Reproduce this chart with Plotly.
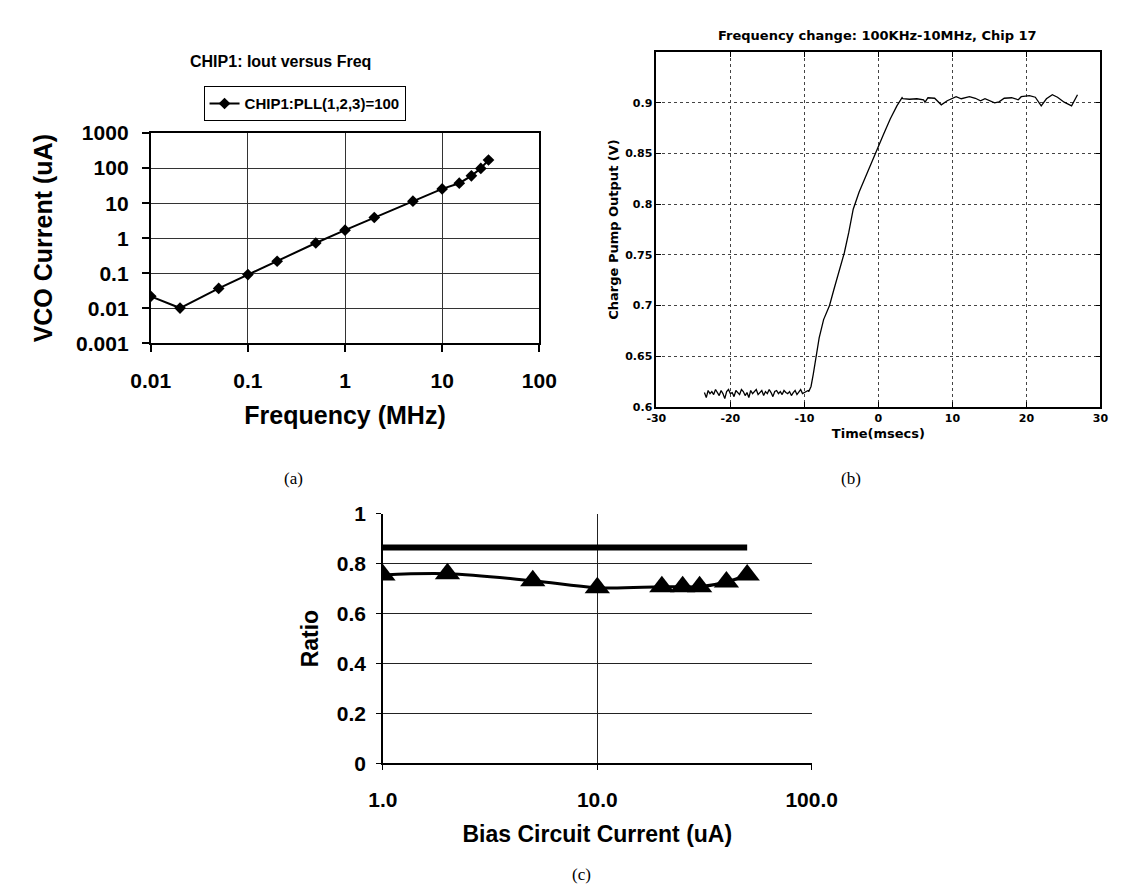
import plotly.graph_objects as go

# ---------------- data ----------------
# (a) CHIP1: Iout versus Freq
freq_mhz = [0.01, 0.02, 0.05, 0.1, 0.2, 0.5, 1, 2, 5, 10, 15, 20, 25, 30]
vco_current_ua = [0.022, 0.0102, 0.037, 0.092, 0.22, 0.73, 1.7, 3.9, 11.4, 25.5, 37, 60, 98, 170]
freq_ticks = [0.01, 0.1, 1, 10, 100]
freq_tick_labels = ["0.01", "0.1", "1", "10", "100"]
cur_ticks = [0.001, 0.01, 0.1, 1, 10, 100, 1000]
cur_tick_labels = ["0.001", "0.01", "0.1", "1", "10", "100", "1000"]

# (b) Frequency change transient
t_flat = [-23.5, -23.25, -23.0, -22.75, -22.5, -22.25, -22.0, -21.75, -21.5, -21.25,
          -21.0, -20.75, -20.5, -20.25, -20.0, -19.75, -19.5, -19.25, -19.0, -18.75,
          -18.5, -18.25, -18.0, -17.75, -17.5, -17.25, -17.0, -16.75, -16.5, -16.25,
          -16.0, -15.75, -15.5, -15.25, -15.0, -14.75, -14.5, -14.25, -14.0, -13.75,
          -13.5, -13.25, -13.0, -12.75, -12.5, -12.25, -12.0, -11.75, -11.5, -11.25,
          -11.0, -10.75, -10.5, -10.25, -10.0, -9.75, -9.5]
v_flat = [0.614, 0.609, 0.616, 0.613, 0.615, 0.612, 0.617, 0.614, 0.611, 0.616,
          0.613, 0.608, 0.615, 0.617, 0.613, 0.614, 0.610, 0.616, 0.614, 0.612,
          0.617, 0.615, 0.611, 0.614, 0.609, 0.616, 0.613, 0.615, 0.617, 0.612,
          0.614, 0.616, 0.611, 0.615, 0.613, 0.617, 0.614, 0.610, 0.615, 0.616,
          0.613, 0.615, 0.612, 0.616, 0.614, 0.613, 0.615, 0.611, 0.614, 0.616,
          0.612, 0.615, 0.617, 0.613, 0.614, 0.615, 0.616]
t_rise = [-9.4, -9.1, -8.8, -8.4, -8.0, -7.4, -6.6, -6.0, -5.3, -4.6,
          -4.0, -3.4, -2.6, -1.6, -0.4, 0.7, 1.6, 2.5, 3.2]
v_rise = [0.615, 0.620, 0.632, 0.650, 0.668, 0.686, 0.700, 0.716, 0.735, 0.752,
          0.772, 0.795, 0.812, 0.830, 0.850, 0.869, 0.884, 0.897, 0.905]
t_plat = [3.3, 4.2, 5.2, 6.1, 6.3, 6.7, 7.6, 8.5, 9.3, 10.5, 11.2, 12.3, 13.1, 13.8,
          14.4, 15.1, 15.7, 16.3, 17.0, 18.0, 18.9, 19.3, 20.4, 21.2, 22.0, 22.7,
          23.5, 24.2, 25.1, 26.1, 26.6, 26.9]
v_plat = [0.904, 0.9035, 0.904, 0.903, 0.9006, 0.905, 0.9045, 0.898, 0.902, 0.906,
          0.904, 0.906, 0.9045, 0.902, 0.904, 0.9016, 0.900, 0.901, 0.9045, 0.905,
          0.903, 0.906, 0.907, 0.9055, 0.897, 0.904, 0.908, 0.9055, 0.9006, 0.897,
          0.9045, 0.908]
time_ticks = [-30, -20, -10, 0, 10, 20, 30]
time_tick_labels = ["-30", "-20", "-10", "0", "10", "20", "30"]
volt_ticks = [0.6, 0.65, 0.7, 0.75, 0.8, 0.85, 0.9]
volt_tick_labels = ["0.6", "0.65", "0.7", "0.75", "0.8", "0.85", "0.9"]

# (c) Ratio versus bias circuit current
ideal_bias_ua = [1, 50]
ideal_ratio = [0.865, 0.865]
bias_current_ua = [1, 2, 5, 10, 20, 25, 30, 40, 50]
ratio = [0.755, 0.76, 0.732, 0.704, 0.708, 0.708, 0.708, 0.727, 0.755]
bias_ticks = [1, 10, 100]
bias_tick_labels = ["1.0", "10.0", "100.0"]
ratio_ticks = [0, 0.2, 0.4, 0.6, 0.8, 1]
ratio_tick_labels = ["0", "0.2", "0.4", "0.6", "0.8", "1"]

# ---------------- layout helpers ----------------
W, H = 1129, 890


def fx(px):
    return px / W


def fy(py):
    return 1 - py / H


ARIAL = "Liberation Sans"
DJV = "DejaVu Sans"
SERIF = "Liberation Serif"


def bold(family, size):
    return dict(family=family, size=size, color="black", weight="bold")


fig = go.Figure()

fig.add_trace(go.Scatter(
    x=freq_mhz, y=vco_current_ua, mode="lines+markers",
    name="CHIP1:PLL(1,2,3)=100",
    line=dict(color="black", width=2),
    marker=dict(symbol="diamond", size=9, color="black"),
    xaxis="x", yaxis="y"))

fig.add_trace(go.Scatter(
    x=t_flat + t_rise + t_plat, y=v_flat + v_rise + v_plat, mode="lines",
    line=dict(color="black", width=1.3), showlegend=False,
    xaxis="x2", yaxis="y2"))

fig.add_trace(go.Scatter(
    x=ideal_bias_ua, y=ideal_ratio, mode="lines",
    line=dict(color="black", width=6), showlegend=False,
    xaxis="x3", yaxis="y3"))

fig.add_trace(go.Scatter(
    x=bias_current_ua, y=ratio, mode="lines+markers",
    line=dict(color="black", width=3, shape="spline"),
    marker=dict(symbol="triangle-up", size=22, color="black"),
    showlegend=False, xaxis="x3", yaxis="y3"))

common_a = dict(showgrid=True, gridcolor="#333", gridwidth=1,
                showline=True, linecolor="black", linewidth=2, mirror=True,
                ticks="outside", ticklen=7, tickcolor="black", tickwidth=1.5,
                zeroline=False)

grid_b = dict(showgrid=True, gridcolor="#444", gridwidth=1, griddash="dot",
              showline=True, linecolor="black", linewidth=1.5, mirror="ticks",
              ticks="inside", ticklen=5, tickcolor="black", zeroline=False)

grid_c = dict(showgrid=True, gridcolor="#222", gridwidth=1,
              showline=True, linecolor="black", linewidth=1.5,
              ticks="outside", ticklen=5, tickcolor="black", zeroline=False)

fig.update_layout(
    width=W, height=H,
    margin=dict(l=0, r=0, t=0, b=0),
    paper_bgcolor="white", plot_bgcolor="white",
    showlegend=True,
    legend=dict(x=fx(183), y=fy(68), xanchor="left", yanchor="top",
                bordercolor="black", borderwidth=1, bgcolor="white",
                font=bold(ARIAL, 15), itemwidth=30),
    xaxis=dict(domain=[fx(128), fx(533)], type="log", range=[-2, 2],
               tickvals=freq_ticks, ticktext=freq_tick_labels,
               tickfont=bold(ARIAL, 21), anchor="y", ticklabelstandoff=10,
               title=dict(text="Frequency (MHz)", font=bold(ARIAL, 25), standoff=16),
               **common_a),
    yaxis=dict(domain=[fy(332), fy(116)], type="log", range=[-3, 3],
               tickvals=cur_ticks, ticktext=cur_tick_labels,
               tickfont=bold(ARIAL, 21), anchor="x", ticklabelstandoff=9,
               title=dict(text="VCO Current (uA)", font=bold(ARIAL, 25), standoff=16),
               **common_a),
    xaxis2=dict(domain=[fx(655), fx(1118)], range=[-30, 30],
                tickvals=time_ticks, ticktext=time_tick_labels,
                tickfont=bold(DJV, 11), anchor="y2",
                title=dict(text="Time(msecs)", font=bold(DJV, 13), standoff=5),
                **grid_b),
    yaxis2=dict(domain=[fy(397), fy(33)], range=[0.6, 0.95],
                tickvals=volt_ticks, ticktext=volt_tick_labels,
                tickfont=bold(DJV, 11), anchor="x2",
                title=dict(text="Charge Pump Output (V)", font=bold(DJV, 13), standoff=4),
                **grid_b),
    xaxis3=dict(domain=[fx(370), fx(817)], type="log", range=[0, 2],
                tickvals=bias_ticks, ticktext=bias_tick_labels,
                tickfont=bold(ARIAL, 21), anchor="y3", ticklabelstandoff=12,
                title=dict(text="Bias Circuit Current (uA)", font=bold(ARIAL, 23), standoff=16),
                **grid_c),
    yaxis3=dict(domain=[fy(763), fy(507)], range=[0, 1],
                tickvals=ratio_ticks, ticktext=ratio_tick_labels,
                tickfont=bold(ARIAL, 21), anchor="x3", ticklabelstandoff=6,
                title=dict(text="Ratio", font=bold(ARIAL, 23), standoff=12),
                **grid_c),
    annotations=[
        dict(text="CHIP1: Iout versus Freq", x=fx(263), y=fy(43),
             xref="paper", yref="paper", showarrow=False,
             xanchor="center", yanchor="middle", font=bold(ARIAL, 16)),
        dict(text="Frequency change: 100KHz-10MHz, Chip 17", x=fx(886), y=fy(16),
             xref="paper", yref="paper", showarrow=False,
             xanchor="center", yanchor="middle", font=bold(DJV, 13)),
        dict(text="(a)", x=fx(277), y=fy(471), xref="paper", yref="paper",
             showarrow=False, xanchor="center", yanchor="middle",
             font=dict(family=SERIF, size=17, color="black")),
        dict(text="(b)", x=fx(858), y=fy(471), xref="paper", yref="paper",
             showarrow=False, xanchor="center", yanchor="middle",
             font=dict(family=SERIF, size=17, color="black")),
        dict(text="(c)", x=fx(577), y=fy(877), xref="paper", yref="paper",
             showarrow=False, xanchor="center", yanchor="middle",
             font=dict(family=SERIF, size=17, color="black")),
    ],
)

fig.write_html("out.html")
